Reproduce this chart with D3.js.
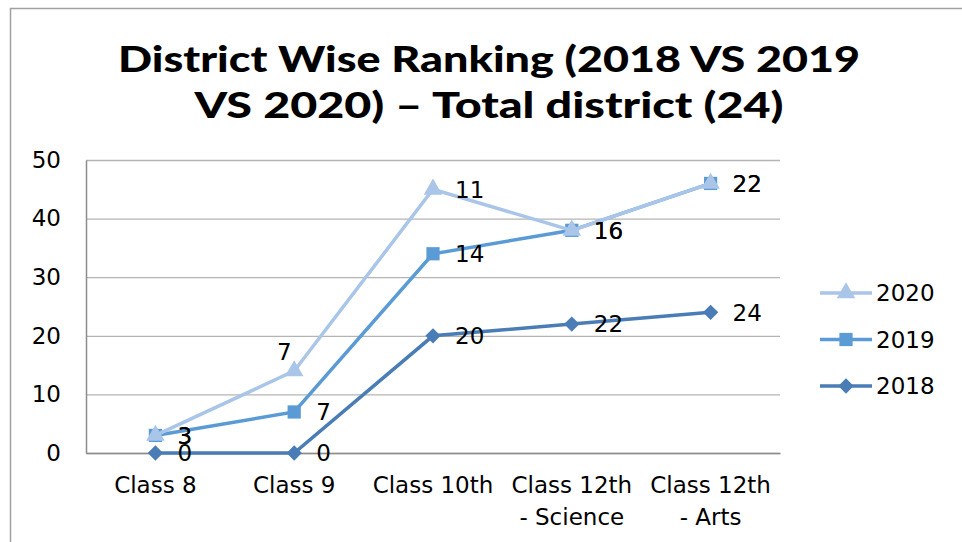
<!DOCTYPE html>
<html>
<head>
<meta charset="utf-8">
<script src="https://cdn.jsdelivr.net/npm/d3@7"></script>
<style>
  body { margin: 0; background: #fff; }
  svg { display: block; }
  text { font-family: "DejaVu Sans", sans-serif; fill: #000; }
</style>
</head>
<body>
<svg id="chart"></svg>
<script>
// chart data
const categories = [['Class 8'], ['Class 9'], ['Class 10th'], ['Class 12th', '- Science'], ['Class 12th', '- Arts']];
const yTicks = [0, 10, 20, 30, 40, 50];
const seriesNames = ['2018', '2019', '2020'];
const values2018 = [0, 0, 20, 22, 24];
const values2019 = [3, 7, 34, 38, 46];
const values2020 = [3, 14, 45, 38, 46];
const labels2018 = [0, 0, 20, 22, 24];
const labels2019 = [3, 7, 14, 16, 22];
const labels2020 = [3, 7, 11, 16, 22];
const titleLines = ['District Wise Ranking (2018 VS 2019', 'VS 2020) \u2013 Total district (24)'];

const W = 962, H = 542;
const margin = {top: 160, right: 182, bottom: 89, left: 86};
const width = W - margin.left - margin.right;
const height = H - margin.top - margin.bottom;

const svg = d3.select('#chart').attr('width', W).attr('height', H);

// outer chart border (only left and top visible)
svg.append('path')
  .attr('d', 'M10.5,' + H + 'V8.5H' + W)
  .attr('fill', 'none')
  .attr('stroke', '#a0a0a0')
  .attr('stroke-width', 1.5);

// title
svg.append('g').selectAll('text')
  .data(titleLines)
  .join('text')
    .attr('x', 489)
    .attr('y', (d, i) => 72 + i * 46)
    .attr('text-anchor', 'middle')
    .attr('textLength', (d, i) => i === 0 ? 742 : 589)
    .attr('lengthAdjust', 'spacingAndGlyphs')
    .style('font-family', 'Lato, "Open Sans", sans-serif')
    .style('font-weight', 900)
    .style('font-size', '36px')
    .text(d => d);

const g = svg.append('g').attr('transform', 'translate(' + margin.left + ',' + margin.top + ')');

const x = d3.scaleBand().domain(d3.range(categories.length)).range([0, width]);
const y = d3.scaleLinear().domain([0, 50]).range([height, 0]);

// gridlines
g.append('g')
  .call(d3.axisLeft(y).tickValues(yTicks).tickSize(-width).tickFormat(''))
  .call(s => s.select('.domain').remove())
  .call(s => s.selectAll('line').attr('stroke', '#b4b4b4').attr('stroke-width', 1.3));

// y axis
g.append('g')
  .call(d3.axisLeft(y).tickValues(yTicks).tickSize(0).tickPadding(25))
  .call(s => s.select('.domain').attr('stroke', '#8c8c8c').attr('stroke-width', 1.5))
  .call(s => s.selectAll('text').style('font-size', '23px').attr('fill', '#000')
    .style('font-family', '"DejaVu Sans", sans-serif'));

// x axis
const xAxis = g.append('g')
  .attr('transform', 'translate(0,' + height + ')')
  .call(d3.axisBottom(x).tickSize(0).tickFormat(''))
  .call(s => s.select('.domain').attr('stroke', '#8c8c8c').attr('stroke-width', 1.5));

xAxis.selectAll('.tick').append('text')
  .attr('text-anchor', 'middle')
  .style('font-size', '23px')
  .selectAll('tspan')
  .data(d => categories[d])
  .join('tspan')
    .attr('x', 0)
    .attr('y', (d, i) => 40 + i * 32)
    .text(d => d);

const series = [
  {name: '2018', values: values2018, labels: labels2018, color: '#4a7db5', symbol: d3.symbolDiamond2, size: 150},
  {name: '2019', values: values2019, labels: labels2019, color: '#5b9bd5', symbol: d3.symbolSquare, size: 175},
  {name: '2020', values: values2020, labels: labels2020, color: '#a9c5e8', symbol: d3.symbolTriangle, size: 150}
];

const line = d3.line()
  .x((d, i) => x(i) + x.bandwidth() / 2)
  .y(d => y(d));

series.forEach(s => {
  const sg = g.append('g');
  sg.append('path')
    .datum(s.values)
    .attr('fill', 'none')
    .attr('stroke', s.color)
    .attr('stroke-width', 3.5)
    .attr('d', line);
  sg.selectAll('path.mark')
    .data(s.values)
    .join('path')
      .attr('class', 'mark')
      .attr('transform', (d, i) => 'translate(' + (x(i) + x.bandwidth() / 2) + ',' + y(d) + ')')
      .attr('d', d3.symbol().type(s.symbol).size(s.size))
      .attr('fill', s.color);
});

// data labels
series.forEach(s => {
  g.append('g').selectAll('text')
    .data(s.values)
    .join('text')
      .attr('x', (d, i) => {
        const cx = x(i) + x.bandwidth() / 2;
        return (s.name === '2020' && i === 1) ? cx - 10 : cx + 22;
      })
      .attr('y', (d, i) => (s.name === '2020' && i === 1) ? y(d) - 19 : y(d))
      .attr('dy', '0.36em')
      .attr('text-anchor', (d, i) => (s.name === '2020' && i === 1) ? 'middle' : 'start')
      .style('font-size', '23px')
      .text((d, i) => s.labels[i]);
});

// legend
const legendOrder = ['2020', '2019', '2018'];
const legend = svg.append('g').attr('transform', 'translate(820,293)');
legendOrder.forEach((name, i) => {
  const s = series.find(d => d.name === name);
  const lg = legend.append('g').attr('transform', 'translate(0,' + (i * 46.5) + ')');
  lg.append('line')
    .attr('x1', 0).attr('x2', 52)
    .attr('stroke', s.color).attr('stroke-width', 3.5);
  lg.append('path')
    .attr('transform', 'translate(26,0)')
    .attr('d', d3.symbol().type(s.symbol).size(s.size))
    .attr('fill', s.color);
  lg.append('text')
    .attr('x', 56)
    .attr('dy', '0.36em')
    .style('font-size', '23px')
    .text(name);
});
</script>
</body>
</html>
